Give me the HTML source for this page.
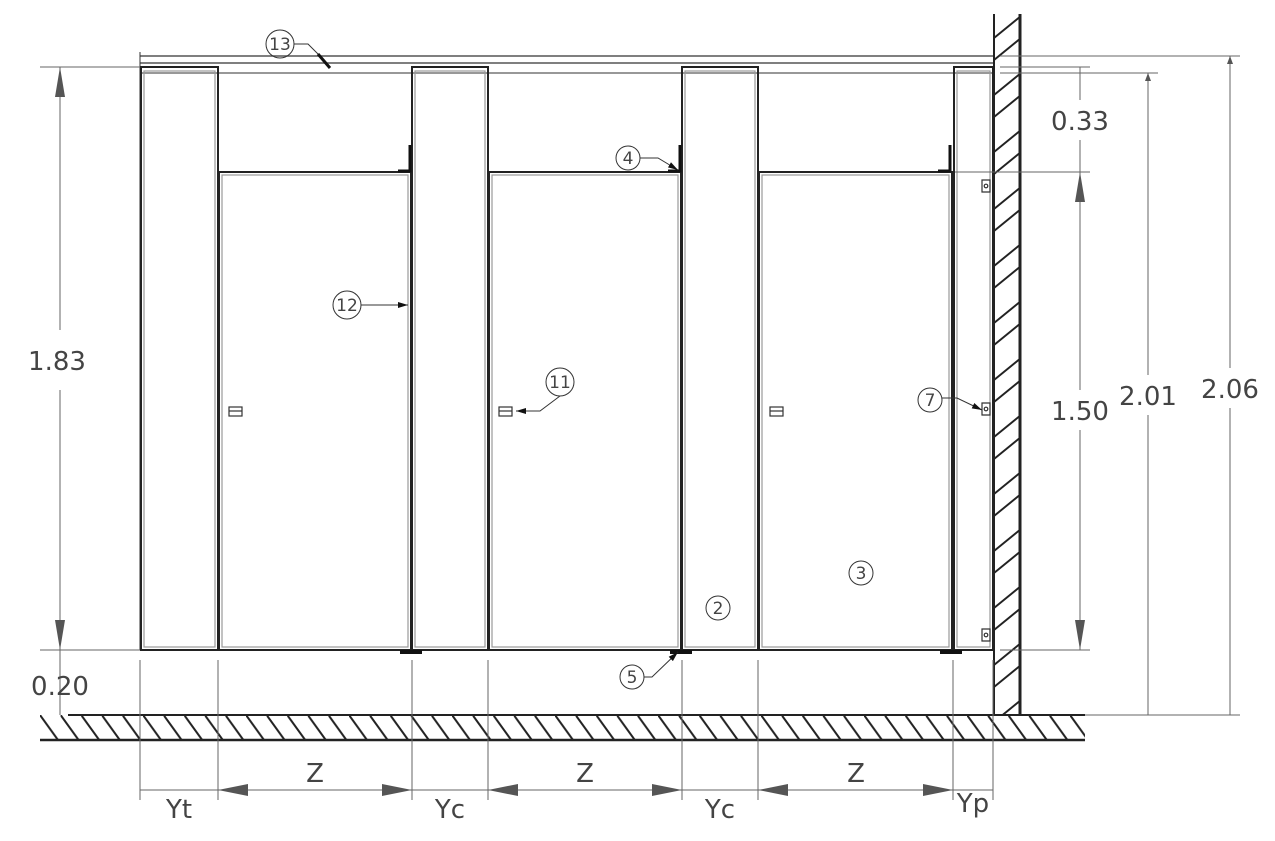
<!DOCTYPE html>
<html><head><style>html,body{margin:0;padding:0;background:#fff}svg{display:block}text{font-family:"DejaVu Sans","Liberation Sans",sans-serif;fill:#444}</style></head>
<body>
<svg width="1275" height="841" viewBox="0 0 1275 841" xmlns="http://www.w3.org/2000/svg">
<defs>
<pattern id="fl" patternUnits="userSpaceOnUse" x="40" y="715" width="20.6" height="25"><line x1="0" y1="0" x2="18" y2="25" stroke="#222" stroke-width="2"/></pattern>
<pattern id="wl" patternUnits="userSpaceOnUse" x="994" y="14" width="27" height="57"><line x1="0" y1="24" x2="27" y2="2" stroke="#222" stroke-width="2"/><line x1="0" y1="46" x2="27" y2="24" stroke="#222" stroke-width="2"/></pattern>
<marker id="ar" viewBox="0 0 10 10" refX="10" refY="5" markerWidth="10" markerHeight="10" orient="auto-start-reverse" markerUnits="userSpaceOnUse"><path d="M0,2 L10,5 L0,8z" fill="#111"/></marker>
</defs>
<g fill="none">
<line x1="140" y1="56" x2="994" y2="56" stroke="#555" stroke-width="1.5"/>
<line x1="140" y1="63" x2="994" y2="63" stroke="#555" stroke-width="1.5"/>
<line x1="140" y1="73" x2="994" y2="73" stroke="#777" stroke-width="1.5"/>
<line x1="140" y1="52" x2="140" y2="650" stroke="#333" stroke-width="1"/>
<g stroke="#222" stroke-width="2">
<rect x="141" y="67" width="77" height="583"/>
<rect x="412" y="67" width="76" height="583"/>
<rect x="682" y="67" width="76" height="583"/>
<rect x="954" y="67" width="39" height="583"/>
</g>
<g stroke="#999" stroke-width="1.2">
<rect x="144" y="71" width="71" height="576"/>
<rect x="415" y="71" width="70" height="576"/>
<rect x="685" y="71" width="70" height="576"/>
<rect x="957" y="71" width="33" height="576"/>
</g>
<g stroke="#222" stroke-width="2">
<rect x="219" y="172" width="192" height="478"/>
<rect x="489" y="172" width="192" height="478"/>
<rect x="759" y="172" width="193" height="478"/>
</g>
<g stroke="#999" stroke-width="1.2">
<rect x="222" y="175" width="186" height="472"/>
<rect x="492" y="175" width="186" height="472"/>
<rect x="762" y="175" width="187" height="472"/>
</g>
<g stroke="#111" stroke-width="3">
<path d="M398,171 H410 V145"/><path d="M668,171 H680 V145"/><path d="M938,171 H950 V145"/>
</g>
<g fill="#111"><rect x="400" y="650" width="22" height="4"/><rect x="670" y="650" width="22" height="4"/><rect x="940" y="650" width="22" height="4"/></g>
<g stroke="#333" stroke-width="1.2"><rect x="229" y="407" width="13" height="9"/><line x1="229" y1="411" x2="242" y2="411"/>
<rect x="499" y="407" width="13" height="9"/><line x1="499" y1="411" x2="512" y2="411"/>
<rect x="770" y="407" width="13" height="9"/><line x1="770" y1="411" x2="783" y2="411"/></g>
<g stroke="#333" stroke-width="1.2"><path d="M982,180 h8 v12 h-8 z"/><circle cx="986" cy="186" r="1.8"/>
<path d="M982,403 h8 v12 h-8 z"/><circle cx="986" cy="409" r="1.8"/>
<path d="M982,629 h8 v12 h-8 z"/><circle cx="986" cy="635" r="1.8"/></g>
<rect x="994" y="14" width="26" height="701" fill="url(#wl)" stroke="none"/>
<line x1="994" y1="14" x2="994" y2="715" stroke="#222" stroke-width="2"/>
<line x1="1020" y1="14" x2="1020" y2="715" stroke="#222" stroke-width="3"/>
<rect x="40" y="715" width="1045" height="25" fill="url(#fl)" stroke="none"/>
<line x1="68" y1="715" x2="1085" y2="715" stroke="#222" stroke-width="2"/>
<line x1="40" y1="740" x2="1085" y2="740" stroke="#222" stroke-width="2.5"/>
<g stroke="#666" stroke-width="1">
<line x1="40" y1="67" x2="140" y2="67"/><line x1="40" y1="650" x2="140" y2="650"/>
<line x1="60" y1="67" x2="60" y2="330"/><line x1="60" y1="390" x2="60" y2="650"/>
<line x1="60" y1="650" x2="60" y2="715"/>
<line x1="1000" y1="67" x2="1090" y2="67"/><line x1="955" y1="172" x2="1090" y2="172"/><line x1="1000" y1="650" x2="1090" y2="650"/>
<line x1="1080" y1="67" x2="1080" y2="100"/><line x1="1080" y1="140" x2="1080" y2="172"/>
<line x1="1080" y1="172" x2="1080" y2="390"/><line x1="1080" y1="430" x2="1080" y2="650"/>
<line x1="1000" y1="73" x2="1158" y2="73"/><line x1="1000" y1="56" x2="1240" y2="56"/><line x1="1085" y1="715" x2="1240" y2="715"/>
<line x1="1148" y1="73" x2="1148" y2="375"/><line x1="1148" y1="415" x2="1148" y2="715"/>
<line x1="1230" y1="56" x2="1230" y2="368"/><line x1="1230" y1="408" x2="1230" y2="715"/>
<line x1="140" y1="660" x2="140" y2="800"/><line x1="218" y1="660" x2="218" y2="800"/>
<line x1="412" y1="660" x2="412" y2="800"/><line x1="488" y1="660" x2="488" y2="800"/>
<line x1="682" y1="660" x2="682" y2="800"/><line x1="758" y1="660" x2="758" y2="800"/>
<line x1="953" y1="660" x2="953" y2="800"/><line x1="993" y1="660" x2="993" y2="800"/>
<line x1="140" y1="790" x2="993" y2="790"/>
</g>
<g fill="#555" stroke="none">
<path d="M60,67 l-5,30 h10z"/><path d="M60,650 l-5,-30 h10z"/>
<path d="M1080,172 l-5,30 h10z"/><path d="M1080,650 l-5,-30 h10z"/>
<path d="M1148,73 l-3,8 h6z"/><path d="M1230,56 l-3,8 h6z"/>
<path d="M218,790 l30,-6 v12z"/><path d="M412,790 l-30,-6 v12z"/>
<path d="M488,790 l30,-6 v12z"/><path d="M682,790 l-30,-6 v12z"/>
<path d="M758,790 l30,-6 v12z"/><path d="M953,790 l-30,-6 v12z"/>
</g>
<g stroke="#333" stroke-width="1">
<circle cx="280" cy="44" r="14"/><path d="M294,44 H308 L320,56"/><line x1="318" y1="54" x2="330" y2="68" stroke-width="3" stroke="#111"/>
<circle cx="347" cy="305" r="14"/><line x1="361" y1="305" x2="408" y2="305" marker-end="url(#ar)"/>
<circle cx="560" cy="382" r="14"/><path d="M560,396 L540,411 H516" marker-end="url(#ar)"/>
<circle cx="628" cy="158" r="12"/><path d="M640,158 H658 L678,170" marker-end="url(#ar)"/>
<circle cx="632" cy="677" r="12"/><path d="M644,677 H652 L678,652" marker-end="url(#ar)"/>
<circle cx="930" cy="400" r="12"/><path d="M942,398 H957 L982,410" marker-end="url(#ar)"/>
<circle cx="718" cy="608" r="12"/>
<circle cx="861" cy="573" r="12"/>
</g>
</g>
<g font-size="17" text-anchor="middle" style="fill:#222">
<text x="280" y="50">13</text><text x="347" y="311">12</text><text x="560" y="388">11</text>
<text x="628" y="164">4</text><text x="632" y="683">5</text><text x="930" y="406">7</text>
<text x="718" y="614">2</text><text x="861" y="579">3</text>
</g>
<g font-size="26" text-anchor="middle">
<text x="57" y="370">1.83</text><text x="60" y="695">0.20</text>
<text x="1080" y="130">0.33</text><text x="1080" y="420">1.50</text>
<text x="1148" y="405">2.01</text><text x="1230" y="398">2.06</text>
<text x="315" y="782">Z</text><text x="585" y="782">Z</text><text x="856" y="782">Z</text>
<text x="179" y="818">Yt</text><text x="450" y="818">Yc</text><text x="720" y="818">Yc</text><text x="973" y="812">Yp</text>
</g>
</svg>
</body></html>
